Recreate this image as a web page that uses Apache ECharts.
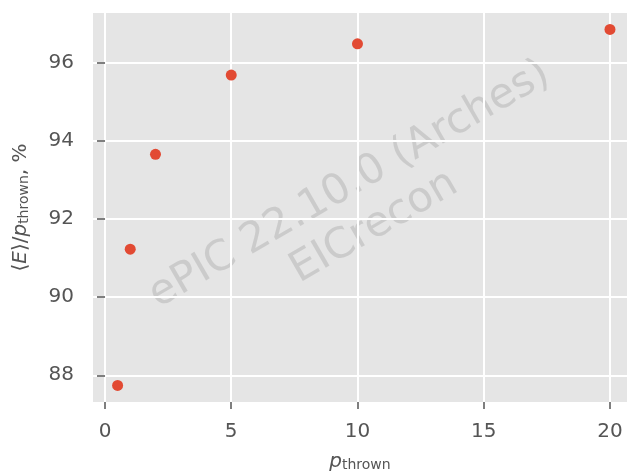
<!DOCTYPE html>
<html><head><meta charset="utf-8">
<script src="https://cdn.jsdelivr.net/npm/echarts@6/dist/echarts.min.js"></script>
<style>html,body{margin:0;padding:0;background:#fff}#c{width:627px;height:476px}</style>
</head><body><div id="c"></div>
<script>
const pThrown = [0.5, 1, 2, 5, 10, 20];
const eRatio = [87.74, 91.23, 93.66, 95.69, 96.49, 96.86];
const xTicks = [0, 5, 10, 15, 20];
const yTicks = [88, 90, 92, 94, 96];
const watermark = ['ePIC 22.10.0 (Arches)', 'EICrecon'];

const chart = echarts.init(document.getElementById('c'), null, {renderer: 'canvas'});
const font = 'DejaVu Sans';
const tickColor = '#555555';
chart.setOption({
  animation: false,
  backgroundColor: '#ffffff',
  grid: {left: 93, top: 13, right: 0, bottom: 74, show: true, backgroundColor: '#e5e5e5', borderWidth: 0, outerBoundsMode: 'none', containLabel: false},
  xAxis: {
    type: 'value', min: -0.475, max: 20.675,
    axisLine: {show: false},
    axisTick: {show: true, customValues: xTicks, length: 7, lineStyle: {color: tickColor, width: 1.5}},
    axisLabel: {customValues: xTicks, color: tickColor, fontFamily: font, fontSize: 20, margin: 20},
    splitLine: {show: true, lineStyle: {color: '#ffffff', width: 2}},
    name: '{p|p}{s|thrown}', nameLocation: 'middle', nameGap: 46,
    nameTextStyle: {rich: {
      p: {fontFamily: font, fontStyle: 'italic', fontSize: 20, color: tickColor, lineHeight: 24, verticalAlign: 'bottom'},
      s: {fontFamily: font, fontSize: 14, color: tickColor, lineHeight: 24, verticalAlign: 'bottom', padding: [4, 0, 0, 0]}
    }}
  },
  yAxis: {
    type: 'value', min: 87.315, max: 97.28,
    axisLine: {show: false},
    axisTick: {show: true, customValues: yTicks, length: 8, lineStyle: {color: tickColor, width: 1.5}},
    axisLabel: {customValues: yTicks, color: tickColor, fontFamily: font, fontSize: 20, margin: 19},
    splitLine: {show: true, lineStyle: {color: '#ffffff', width: 2}},
    name: '{n|⟨}{i|E}{n|⟩/}{i|p}{s|thrown}{n|, %}', nameLocation: 'middle', nameGap: 62, nameRotate: 90,
    nameTextStyle: {rich: {
      n: {fontFamily: font, fontSize: 20, color: tickColor, lineHeight: 24, verticalAlign: 'bottom'},
      i: {fontFamily: font, fontStyle: 'italic', fontSize: 20, color: tickColor, lineHeight: 24, verticalAlign: 'bottom'},
      s: {fontFamily: font, fontSize: 14, color: tickColor, lineHeight: 24, verticalAlign: 'bottom', padding: [4, 0, 0, 0]}
    }}
  },
  graphic: [{
    type: 'text', x: 362, y: 206, rotation: Math.PI / 6, z: 0,
    style: {text: watermark.join('\n'), font: '42px "DejaVu Sans"', fill: 'rgba(128,128,128,0.25)', align: 'center', verticalAlign: 'middle', lineHeight: 49}
  }],
  series: [{
    type: 'scatter', data: pThrown.map((x, i) => [x, eRatio[i]]),
    symbol: 'circle', symbolSize: 11, itemStyle: {color: '#E24A33', opacity: 1}, z: 5
  }]
});
</script></body></html>
